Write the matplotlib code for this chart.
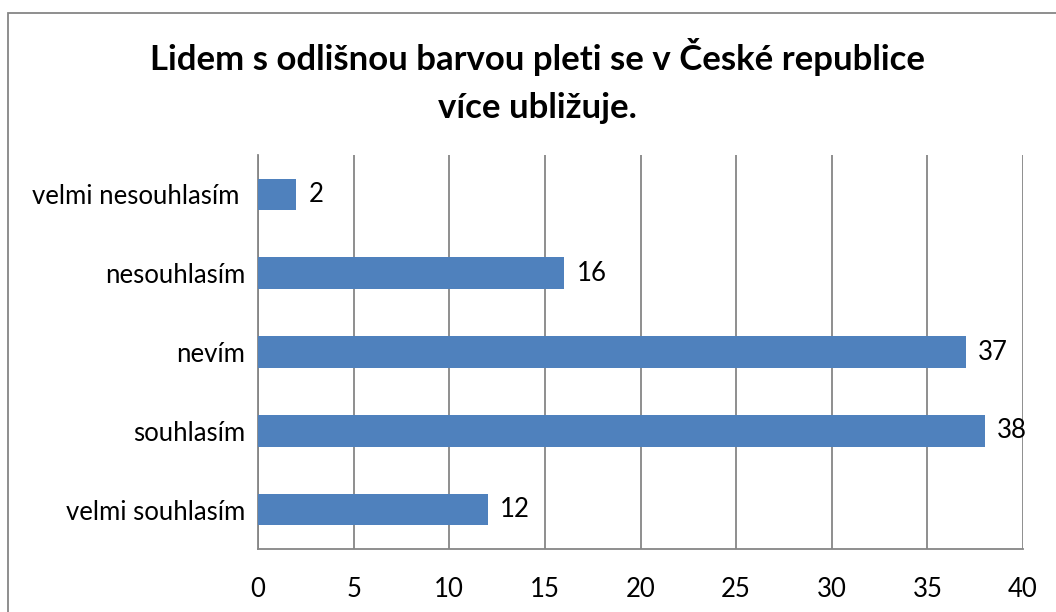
import matplotlib
import matplotlib.pyplot as plt
from matplotlib.patches import Rectangle

matplotlib.use("agg")

categories = ["velmi souhlasím", "souhlasím", "nevím", "nesouhlasím", "velmi nesouhlasím "]
values = [12, 38, 37, 16, 2]
x_ticks = [0, 5, 10, 15, 20, 25, 30, 35, 40]
title = "Lidem s odlišnou barvou pleti se v České republice\nvíce ubližuje."

BAR = "#4F81BD"
GRID = "#868686"
FS = 18.5

plt.rcParams["font.family"] = ["Lato", "DejaVu Sans"]

fig = plt.figure(figsize=(10.56, 6.12), dpi=100)
ax = fig.add_axes([258 / 1056, 1 - 549 / 612, 765 / 1056, 394 / 612])

ypos = list(range(len(categories)))
ax.barh(ypos, values, height=0.4, color=BAR, zorder=3)
for y, v in zip(ypos, values):
    ax.annotate(str(v), (v, y), xytext=(9, 0), textcoords="offset points",
                va="center", ha="left", fontsize=FS, color="black")

ax.set_xlim(0, 40)
ax.set_ylim(-0.5, 4.5)
ax.set_xticks(x_ticks)
ax.set_xticklabels([str(t) for t in x_ticks])
ax.set_yticks(ypos)
ax.set_yticklabels(categories)
ax.tick_params(axis="both", length=0, labelsize=FS)
ax.tick_params(axis="x", pad=20)
ax.tick_params(axis="y", pad=9)

ax.grid(True, axis="x", color=GRID, linewidth=1.3, zorder=0)
ax.set_axisbelow(True)
for s in ["top", "right"]:
    ax.spines[s].set_visible(False)
for s in ["left", "bottom"]:
    ax.spines[s].set_color(GRID)
    ax.spines[s].set_linewidth(1.3)

fig.text(537 / 1056, 1 - 81 / 612, title, ha="center", va="center",
         fontsize=25, fontweight="bold", linespacing=1.6)

fig.patches.append(Rectangle((8 / 1056, -0.1), 1.2, 1 - 13 / 612 + 0.1,
                             transform=fig.transFigure, fill=False,
                             edgecolor=GRID, linewidth=1.3))

fig.savefig("out.png", dpi=100)
